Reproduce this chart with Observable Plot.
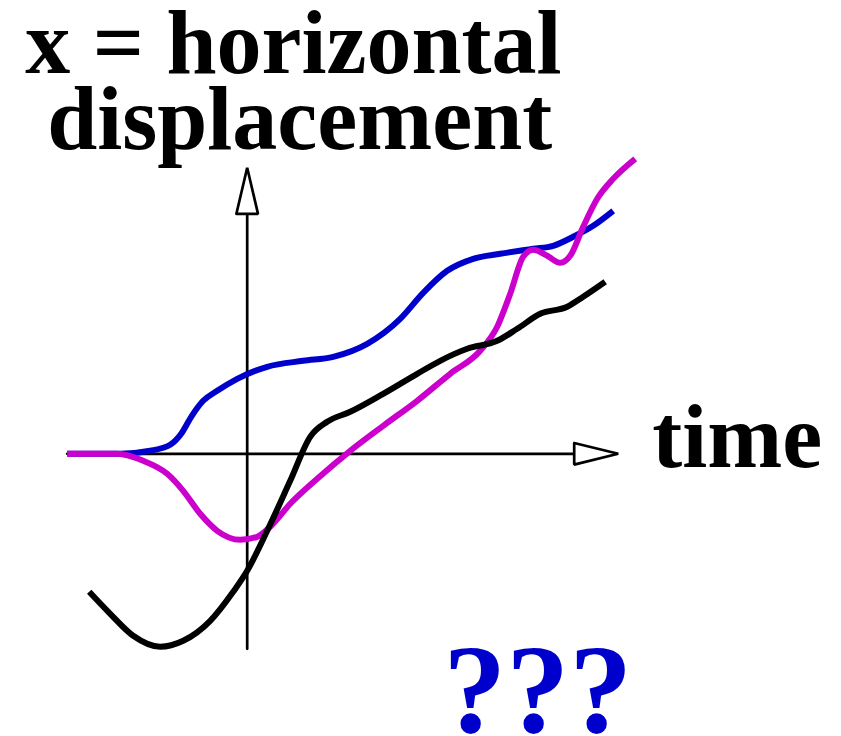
<!DOCTYPE html>
<html>
<head>
<meta charset="utf-8">
<script src="https://cdn.jsdelivr.net/npm/d3@7"></script>
<script src="https://cdn.jsdelivr.net/npm/@observablehq/plot@0.6"></script>
<style>
  html, body { margin: 0; padding: 0; background: #fff; }
</style>
</head>
<body>
<div id="chart"></div>
<script>
// --- data (time t, displacement x), arbitrary units ---
const blueT = [-18.0, -12.7, -9.7, -7.7, -6.6, -5.6, -4.4, -3.0, -1.0, 2.0, 5.6, 8.6, 12.0, 15.3, 17.6, 20.0, 22.6, 25.3, 28.6, 30.6, 32.6, 34.6, 36.6];
const blueX = [0, 0, 0.3, 0.9, 2.0, 3.7, 5.3, 6.3, 7.5, 8.7, 9.3, 9.7, 11.0, 13.5, 16.1, 18.3, 19.5, 20.0, 20.5, 20.8, 21.7, 22.8, 24.3];

const magentaT = [-18.0, -13.0, -10.4, -8.0, -6.4, -4.7, -3.0, -0.7, 1.0, 2.3, 4.3, 7.0, 10.3, 13.6, 17.0, 20.3, 23.3, 25.0, 26.3, 27.6, 28.6, 30.0, 31.3, 32.3, 33.6, 35.0, 36.6, 38.8];
const magentaX = [0, 0, -0.7, -2.0, -3.7, -6.0, -7.7, -8.6, -8.3, -7.3, -5.0, -2.5, 0.3, 2.8, 5.3, 8.0, 10.3, 12.7, 16.0, 19.7, 20.4, 19.8, 19.1, 19.8, 22.7, 25.5, 27.5, 29.5];

const blackT = [-15.8, -13.7, -11.4, -8.7, -6.4, -3.7, -1.4, 0, 2.0, 4.3, 6.3, 8.0, 10.3, 13.6, 17.0, 19.3, 22.0, 25.0, 27.0, 29.3, 32.0, 33.6, 35.8];
const blackX = [-13.8, -16.0, -18.2, -19.3, -18.7, -16.7, -13.8, -11.7, -7.7, -2.7, 1.7, 3.2, 4.2, 6.0, 8.0, 9.3, 10.5, 11.3, 12.5, 14.0, 14.7, 15.7, 17.2];

// axis extents: [start, arrow base, arrow tip], arrowhead half-width
const timeAxis = [-18.0, 32.7, 37.1];
const dispAxis = [-19.5, 24.0, 28.6];
const headHalf = 1.08;

// labels
const titleLines = ["x = horizontal", "displacement"];
const timeLabel = "time";
const questionLabel = "???";

const series = (T, X) => T.map((t, i) => ({t, x: X[i]}));
const blue = series(blueT, blueX);
const magenta = series(magentaT, magentaX);
const black = series(blackT, blackX);

const xAxisLine = [{t: timeAxis[0], x: 0}, {t: timeAxis[1], x: 0}];
const xHead = [
  {t: timeAxis[1], x: headHalf},
  {t: timeAxis[2], x: 0},
  {t: timeAxis[1], x: -headHalf},
  {t: timeAxis[1], x: headHalf}
];
const yAxisLine = [{t: 0, x: dispAxis[0]}, {t: 0, x: dispAxis[1]}];
const yHead = [
  {t: -headHalf, x: dispAxis[1]},
  {t: 0, x: dispAxis[2]},
  {t: headHalf, x: dispAxis[1]},
  {t: -headHalf, x: dispAxis[1]}
];

const chart = Plot.plot({
  width: 841,
  height: 736,
  margin: 0,
  x: {domain: [-24.67, 59.43], axis: null},
  y: {domain: [-28.27, 45.33], axis: null},
  style: {fontFamily: "'Liberation Serif', 'Times New Roman', serif", background: "white", overflow: "visible"},
  marks: [
    Plot.line(xAxisLine, {x: "t", y: "x", stroke: "black", strokeWidth: 2.7}),
    Plot.line(yAxisLine, {x: "t", y: "x", stroke: "black", strokeWidth: 2.7}),
    Plot.line(xHead, {x: "t", y: "x", stroke: "black", fill: "white", strokeWidth: 2.7, strokeLinejoin: "miter"}),
    Plot.line(yHead, {x: "t", y: "x", stroke: "black", fill: "white", strokeWidth: 2.7, strokeLinejoin: "miter"}),
    Plot.line(blue, {x: "t", y: "x", stroke: "#0000cc", strokeWidth: 6, curve: "monotone-x", strokeLinecap: "butt"}),
    Plot.line(magenta, {x: "t", y: "x", stroke: "#cc00cc", strokeWidth: 6, curve: "monotone-x", strokeLinecap: "butt"}),
    Plot.line(black, {x: "t", y: "x", stroke: "black", strokeWidth: 6, curve: "monotone-x", strokeLinecap: "butt"}),
    Plot.text([titleLines[0]], {x: -22.2, y: 38.06, text: d => d, textAnchor: "start", lineAnchor: "bottom", fontSize: 90, fontWeight: "bold", fill: "black"}),
    Plot.text([titleLines[1]], {x: -20.0, y: 30.5, text: d => d, textAnchor: "start", lineAnchor: "bottom", fontSize: 90, fontWeight: "bold", fill: "black"}),
    Plot.text([timeLabel], {x: 40.5, y: -1.27, text: d => d, textAnchor: "start", lineAnchor: "bottom", fontSize: 90, fontWeight: "bold", fill: "black"}),
    Plot.text([questionLabel], {x: 19.6, y: -27.77, text: d => d, textAnchor: "start", lineAnchor: "bottom", fontSize: 126, fontWeight: "bold", fill: "#0000cc"})
  ]
});
document.getElementById("chart").appendChild(chart);
</script>
</body>
</html>
